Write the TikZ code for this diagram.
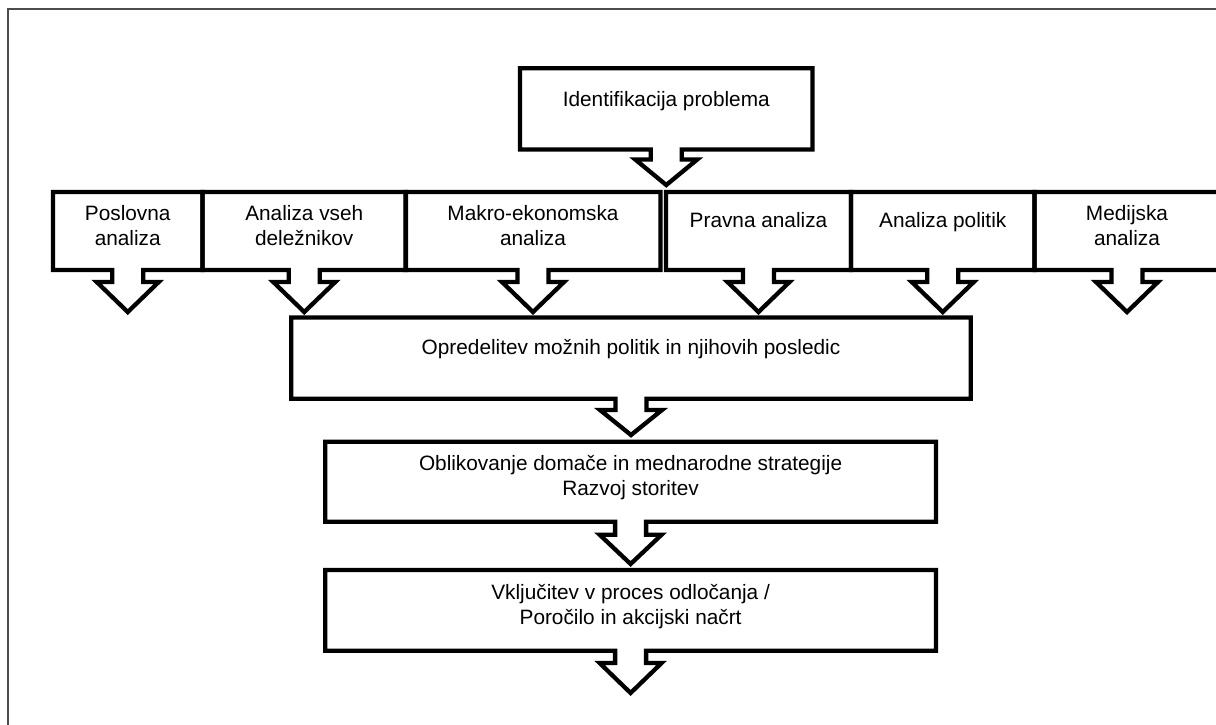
\documentclass[tikz,border=0pt]{standalone}
\usepackage{fontspec}
\setmainfont{Liberation Sans}
% box outline with a downward arrow tab under its bottom edge
% #1 node name, #2 depth of the stem, #3 depth of the arrow tip (both from the bottom edge)
\newcommand\calloutpath[3]{%
  \draw[outline] (#1.south west) -- (#1.north west) -- (#1.north east) -- (#1.south east)
    -- ([xshift=15.5pt]#1.south) -- ([xshift=15.5pt,yshift=-#2pt]#1.south)
    -- ([xshift=31pt,yshift=-#2pt]#1.south) -- ([yshift=-#3pt]#1.south)
    -- ([xshift=-31pt,yshift=-#2pt]#1.south) -- ([xshift=-15.5pt,yshift=-#2pt]#1.south)
    -- ([xshift=-15.5pt]#1.south) -- cycle;}
\begin{document}
\begin{tikzpicture}[x=1pt,y=-1pt,
  boxgeom/.style={shape=rectangle, draw=none, inner sep=0pt, outer sep=0pt},
  rowbox/.style={boxgeom, minimum height=78pt},
  lowbox/.style={boxgeom, minimum width=610.8pt},
  outline/.style={line width=4.3pt, line join=miter, draw=black},
  boxtext/.style={anchor=north, align=center, inner sep=0pt, text=black,
    font=\fontsize{20.8}{25}\selectfont, execute at begin node=\strut},
  frameline/.style={line width=2pt, draw=black!70}]

\clip (0,0) rectangle (1216,725);
\fill[white] (0,0) rectangle (1216,725);

% page frame
\draw[frameline] (8,9) rectangle (1240,750);

% geometry of the boxes
\node[boxgeom, minimum width=292.5pt, minimum height=81.2pt] (ident) at (666.25,108.9) {};

\node[rowbox, minimum width=149.5pt] (posl)  at (127.75,231) {};
\node[rowbox, minimum width=203.5pt] (delez) at (304.25,231) {};
\node[rowbox, minimum width=255pt]   (makro) at (533,231) {};
\node[rowbox, minimum width=185pt]   (pravo) at (758.5,231) {};
\node[rowbox, minimum width=183.5pt] (polit) at (942.75,231) {};
\node[rowbox, minimum width=185pt]   (medij) at (1127,231) {};

\node[boxgeom, minimum width=679.4pt, minimum height=81.2pt] (opred) at (631,358.1) {};
\node[lowbox, minimum height=80pt]   (oblik) at (630.6,481.7) {};
\node[lowbox, minimum height=80.8pt] (vklj)  at (630.6,610.4) {};

% outlines with arrow tabs
\calloutpath{ident}{10}{35.5}
\calloutpath{posl}{12}{42}
\calloutpath{delez}{12}{42}
\calloutpath{makro}{12}{42}
\calloutpath{pravo}{12}{42}
\calloutpath{polit}{12}{42}
\calloutpath{medij}{12}{42}
\calloutpath{opred}{11.3}{36.3}
\calloutpath{oblik}{13}{42.3}
\calloutpath{vklj}{12.2}{42.2}

% labels
\node[boxtext] (ident-t) at ([yshift=-20.2pt]ident.north) {Identifikacija problema};

\node[boxtext] (posl-t)  at ([yshift=-13pt]posl.north)  {Poslovna\\analiza};
\node[boxtext] (delez-t) at ([yshift=-13pt]delez.north) {Analiza vseh\\deležnikov};
\node[boxtext] (makro-t) at ([yshift=-13pt]makro.north) {Makro-ekonomska\\analiza};
\node[boxtext] (pravo-t) at ([yshift=-17.5pt]pravo.north) {Pravna analiza};
\node[boxtext] (polit-t) at ([yshift=-17.5pt]polit.north) {Analiza politik};
\node[boxtext] (medij-t) at ([yshift=-13pt]medij.north) {Medijska\\analiza};

\node[boxtext] (opred-t) at ([yshift=-19.5pt]opred.north) {Opredelitev možnih politik in njihovih posledic};
\node[boxtext] (oblik-t) at ([yshift=-13.8pt]oblik.north) {Oblikovanje domače in mednarodne strategije\\Razvoj storitev};
\node[boxtext] (vklj-t)  at ([yshift=-14pt]vklj.north)  {Vključitev v proces odločanja /\\Poročilo in akcijski načrt};
\end{tikzpicture}
\end{document}
